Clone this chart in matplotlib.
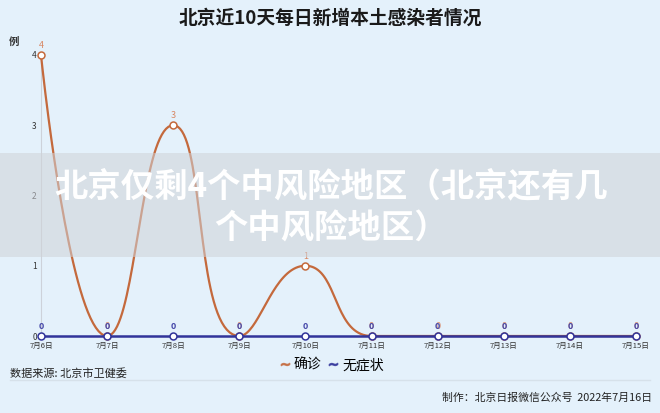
import numpy as np
import matplotlib
matplotlib.use("Agg")
import matplotlib.pyplot as plt
from matplotlib.lines import Line2D
from matplotlib.patches import Rectangle

plt.rcParams['font.family'] = ['Noto Sans CJK SC', 'DejaVu Sans']

# ---- data ----
dates = ["7月6日", "7月7日", "7月8日", "7月9日", "7月10日",
         "7月11日", "7月12日", "7月13日", "7月14日", "7月15日"]
confirmed = [4, 0, 3, 0, 1, 0, 0, 0, 0, 0]
asymptomatic = [0, 0, 0, 0, 0, 0, 0, 0, 0, 0]
yticks = [0, 1, 2, 3, 4]
series_names = ["确诊", "无症状"]

title = "北京近10天每日新增本土感染者情况"
overlay = "北京仅剩4个中风险地区（北京还有几\n个中风险地区）"
source = "数据来源: 北京市卫健委"
credit = "制作：北京日报微信公众号  2022年7月16日"

BG = "#e4f1fb"
ORANGE = "#c4693c"
ORANGE_LBL = "#d88763"
BLUE = "#31349a"
BLUE_LBL = "#4446a8"

fig = plt.figure(figsize=(6.6, 4.13), dpi=100, facecolor=BG)
ax = fig.add_axes([41/660, 1-336/413, (636-41)/660, (336-55)/413])
ax.set_facecolor(BG)
x = np.arange(len(dates))
ax.set_xlim(x[0], x[-1])
ax.set_ylim(0, 4)


def echarts_smooth(xs, ys, smooth=0.5, n=40):
    pts = ax.transData.transform(np.column_stack([xs, ys]).astype(float))
    out = [pts[0]]
    c0 = pts[0].copy()
    N = len(pts)
    t = np.linspace(0, 1, n)[1:][:, None]
    for k in range(1, N):
        px, py = pts[k - 1]
        xk, yk = pts[k]
        if k < N - 1:
            nx, ny = pts[k + 1]
            vx, vy = nx - px, ny - py
            l0 = np.hypot(xk - px, yk - py)
            l1 = np.hypot(nx - xk, ny - yk)
            r = l1 / (l0 + l1)
            n0x = xk + vx * smooth * r
            n0y = yk + vy * smooth * r
            n0x = min(max(n0x, min(nx, xk)), max(nx, xk))
            n0y = min(max(n0y, min(ny, yk)), max(ny, yk))
            vx, vy = n0x - xk, n0y - yk
            c1x = xk - vx * l0 / l1
            c1y = yk - vy * l0 / l1
            c1x = min(max(c1x, min(px, xk)), max(px, xk))
            c1y = min(max(c1y, min(py, yk)), max(py, yk))
            vx, vy = xk - c1x, yk - c1y
            n0x = xk + vx * l1 / l0
            n0y = yk + vy * l1 / l0
        else:
            c1x, c1y = xk, yk
            n0x, n0y = xk, yk
        P0 = pts[k - 1]
        C0 = c0
        C1 = np.array([c1x, c1y])
        P1 = pts[k]
        seg = ((1 - t) ** 3) * P0 + 3 * ((1 - t) ** 2) * t * C0 + 3 * (1 - t) * t ** 2 * C1 + t ** 3 * P1
        out.extend(seg)
        c0 = np.array([n0x, n0y])
    out = np.array(out)
    return ax.transData.inverted().transform(out)


cs = echarts_smooth(x, confirmed)
ax.plot(cs[:, 0], cs[:, 1], color=ORANGE, lw=1.6, zorder=3, clip_on=False)
ax.plot(x, confirmed, ls='none', marker='o', ms=5, mfc='white', mec=ORANGE, mew=1.1,
        zorder=4, clip_on=False)
ax.plot(x, asymptomatic, color=BLUE, lw=1.8, zorder=5, clip_on=False)
ax.plot(x, asymptomatic, ls='none', marker='o', ms=5, mfc='white', mec=BLUE, mew=1.1,
        zorder=6, clip_on=False)

for xi, v in zip(x, confirmed):
    ax.annotate(str(v), (xi, v), xytext=(0, 5), textcoords='offset pixels',
                ha='center', va='bottom', fontsize=6.5, color=ORANGE_LBL, zorder=7,
                annotation_clip=False)
for xi, v in zip(x, asymptomatic):
    ax.annotate(str(v), (xi, v), xytext=(0, 5), textcoords='offset pixels',
                ha='center', va='bottom', fontsize=6.5, color=BLUE_LBL, fontweight='bold',
                zorder=8, annotation_clip=False)

ax.set_xticks(x)
ax.set_xticklabels(dates, fontsize=5.5, color='#333333')
ax.set_yticks(yticks)
ax.set_yticklabels([str(v) for v in yticks], fontsize=6, color='#333333')
ax.tick_params(axis='both', length=0)
ax.tick_params(axis='x', pad=4)
ax.tick_params(axis='y', pad=3)
for s in ['top', 'right']:
    ax.spines[s].set_visible(False)
ax.spines['left'].set_color('#cdd2da')
ax.spines['left'].set_linewidth(0.8)
ax.spines['bottom'].set_color('#cdd2da')

fig.text(14/660, 1-42/413, "例", fontsize=7.5, fontweight='bold', color='#333333',
         ha='center', va='center')
fig.text(0.5, 1-18/413, title, fontsize=13.5, fontweight='bold', color='#1a1a1a',
         ha='center', va='center')

handles = [Line2D([], [], ls='none', marker='$\\sim$', ms=6, color=ORANGE, alpha=0.8),
           Line2D([], [], ls='none', marker='$\\sim$', ms=6, color=BLUE, alpha=0.8)]
fig.legend(handles, series_names, loc='center', bbox_to_anchor=(332/660, 1-365/413),
           ncol=2, frameon=False, fontsize=10, handlelength=0.7, handletextpad=0.3,
           columnspacing=0.5, borderpad=0)

fig.add_artist(Line2D([10/660, 650/660], [1-380/413, 1-380/413], transform=fig.transFigure,
                      color='#d6e1ea', lw=1))
fig.text(10/660, 1-373/413, source, fontsize=8, color='#222222', ha='left', va='center')
fig.text(652/660, 1-398/413, credit, fontsize=7.8, color='#222222', ha='right', va='center')

# overlay band
fig.add_artist(Rectangle((0, 1-257/413), 1, (257-153)/413, transform=fig.transFigure,
                         facecolor='#cfd2d8', alpha=0.55, edgecolor='none', zorder=10))
fig.text(331/660, 1-208/413, overlay, fontsize=24, fontweight='bold', color='white',
         ha='center', va='center', linespacing=1.36, zorder=11)

fig.savefig("out.png", dpi=100, facecolor=BG)
